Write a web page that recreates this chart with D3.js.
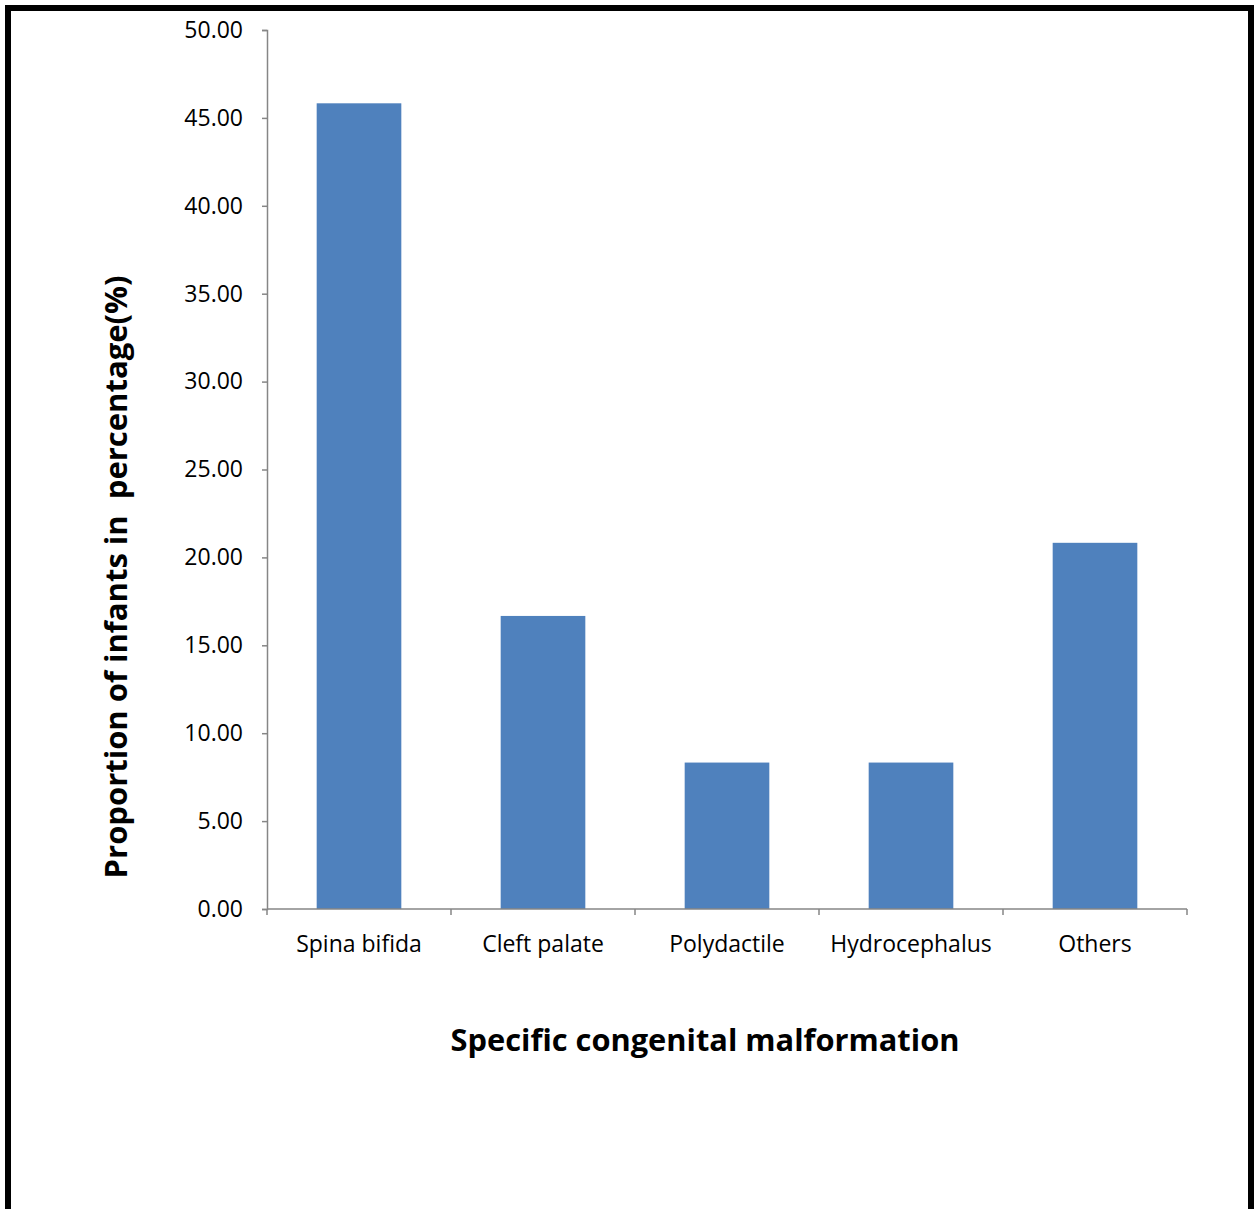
<!DOCTYPE html>
<html>
<head>
<meta charset="utf-8">
<script src="https://cdn.jsdelivr.net/npm/d3@7"></script>
<style>
  html, body { margin: 0; padding: 0; background: #fff; }
  svg { display: block; }
</style>
</head>
<body>
<svg id="chart" width="1256" height="1209"></svg>
<script>
// Share of infants by specific congenital malformation (%)
const categories = ["Spina bifida", "Cleft palate", "Polydactile", "Hydrocephalus", "Others"];
const values = [45.83, 16.67, 8.33, 8.33, 20.83];
const yTickValues = [0, 5, 10, 15, 20, 25, 30, 35, 40, 45, 50];

const svg = d3.select("#chart");
const font = "'Open Sans', 'Noto Sans', sans-serif";
const axisColor = "#868686";
const barColor = "#4F81BD";

// outer frame (bottom edge runs past the page)
svg.append("rect")
  .attr("x", 8).attr("y", 8)
  .attr("width", 1243).attr("height", 1240)
  .attr("fill", "none").attr("stroke", "#000").attr("stroke-width", 6);

const plot = { left: 267, right: 1187, top: 30, bottom: 909 };

const x = d3.scaleBand()
  .domain(categories)
  .range([plot.left, plot.right])
  .paddingInner(0.54)
  .paddingOuter(0.27);

const y = d3.scaleLinear().domain([0, 50]).range([plot.bottom, plot.top]);

// bars
svg.append("g").selectAll("rect")
  .data(categories)
  .join("rect")
  .attr("x", d => x(d))
  .attr("width", x.bandwidth())
  .attr("y", (d, i) => y(values[i]))
  .attr("height", (d, i) => y(0) - y(values[i]))
  .attr("fill", barColor);

// y axis
const yAxis = svg.append("g")
  .attr("transform", `translate(${plot.left},0)`)
  .call(d3.axisLeft(y).tickValues(yTickValues).tickFormat(d3.format(".2f")).tickSize(5).tickPadding(19));
yAxis.select(".domain").attr("stroke", axisColor).attr("stroke-width", 1.5);
yAxis.selectAll(".tick line").attr("stroke", axisColor).attr("stroke-width", 1.5);
yAxis.selectAll(".tick text")
  .attr("font-family", font).attr("font-size", 23).attr("fill", "#000");

// x axis: baseline with ticks at category boundaries
const step = x.step();
const xAxisG = svg.append("g");
xAxisG.append("line")
  .attr("x1", plot.left).attr("x2", plot.right)
  .attr("y1", plot.bottom).attr("y2", plot.bottom)
  .attr("stroke", axisColor).attr("stroke-width", 1.5);
const boundaries = d3.range(categories.length + 1).map(i => plot.left + i * step);
xAxisG.selectAll("line.tk")
  .data(boundaries)
  .join("line")
  .attr("class", "tk")
  .attr("x1", d => d).attr("x2", d => d)
  .attr("y1", plot.bottom).attr("y2", plot.bottom + 6)
  .attr("stroke", axisColor).attr("stroke-width", 1.5);
xAxisG.selectAll("text")
  .data(categories)
  .join("text")
  .attr("x", d => x(d) + x.bandwidth() / 2)
  .attr("y", 952)
  .attr("text-anchor", "middle")
  .attr("font-family", font).attr("font-size", 23).attr("fill", "#000")
  .text(d => d);

// axis titles
svg.append("text")
  .attr("x", 705).attr("y", 1051)
  .attr("text-anchor", "middle")
  .attr("font-family", font).attr("font-weight", "bold").attr("font-size", 30.8)
  .text("Specific congenital malformation");

svg.append("text")
  .attr("transform", "translate(127,577) rotate(-90)")
  .attr("text-anchor", "middle")
  .attr("font-family", font).attr("font-weight", "bold").attr("font-size", 31)
  .attr("xml:space", "preserve")
  .style("white-space", "pre")
  .text("Proportion of infants in  percentage(%)");
</script>
</body>
</html>
